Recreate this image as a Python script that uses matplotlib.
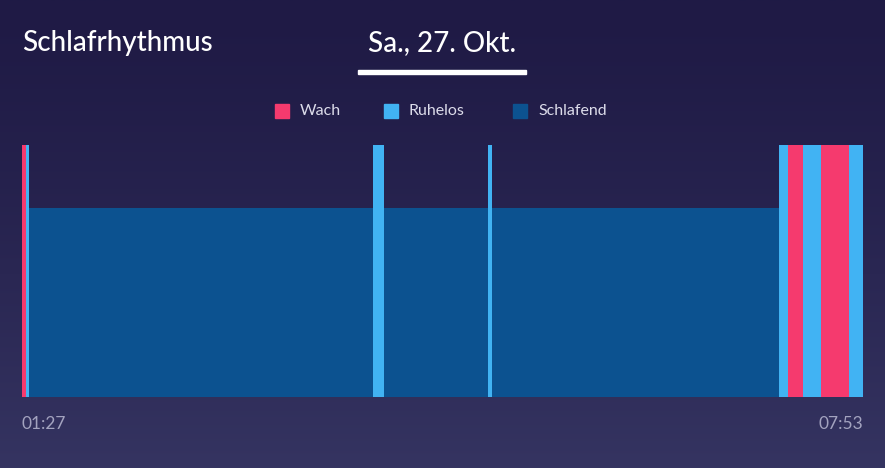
import matplotlib
matplotlib.use("Agg")
import matplotlib.pyplot as plt
import numpy as np
from matplotlib.patches import Rectangle

# ---- data ----
stage_names = ["Wach", "Ruhelos", "Schlafend"]
segment_stages = ["Wach", "Ruhelos", "Schlafend", "Ruhelos", "Schlafend", "Ruhelos",
                  "Schlafend", "Ruhelos", "Wach", "Ruhelos", "Wach", "Ruhelos"]
segment_minutes = [2, 1, 158, 5, 48, 1.5, 132, 4, 7, 8, 13, 6.5]
start_label = "01:27"
end_label = "07:53"
title = "Schlafrhythmus"
date_label = "Sa., 27. Okt."

# ---- style ----
colors = {"Wach": "#f53a6e", "Ruhelos": "#41b3f3", "Schlafend": "#0c5290"}
heights = {"Wach": 1.0, "Ruhelos": 1.0, "Schlafend": 0.75}
FONT = ["Lato", "DejaVu Sans"]

W, H = 885, 468
fig = plt.figure(figsize=(W / 100, H / 100), dpi=100)

# background gradient
bg = fig.add_axes([0, 0, 1, 1])
grad = np.linspace(0, 1, 256).reshape(-1, 1)
top = np.array([0x1f, 0x1a, 0x45]) / 255
bot = np.array([0x35, 0x34, 0x61]) / 255
img = top + (bot - top) * grad[..., None] ** 1.3
bg.imshow(img, aspect="auto", extent=[0, 1, 0, 1], origin="upper")
bg.set_axis_off()

# chart axes
x0, x1 = 22, 863
y_top, y_bot = 145, 397
ax = fig.add_axes([x0 / W, (H - y_bot) / H, (x1 - x0) / W, (y_bot - y_top) / H])
ax.set_facecolor("none")
starts = np.concatenate([[0], np.cumsum(segment_minutes)[:-1]])
total = float(np.sum(segment_minutes))
for s, d, st in zip(starts, segment_minutes, segment_stages):
    ax.bar(s, heights[st], width=d, align="edge", color=colors[st], linewidth=0)
ax.set_xlim(0, total)
ax.set_ylim(0, 1)
for sp in ax.spines.values():
    sp.set_visible(False)
ax.set_yticks([])
ax.set_xticks([0, total])
ax.set_xticklabels([start_label, end_label], fontsize=12.5, color="#a3a3bf", family=FONT)
ax.tick_params(axis="x", length=0, pad=14)
labs = ax.get_xticklabels()
labs[0].set_horizontalalignment("left")
labs[1].set_horizontalalignment("right")

# titles
fig.text(22 / W, 1 - 43 / H, title, fontsize=20, color="white", family=FONT,
         va="center", ha="left", weight="medium")
fig.text(442 / W, 1 - 43 / H, date_label, fontsize=20, color="white", family=FONT,
         va="center", ha="center", weight="medium")
bg.add_patch(Rectangle((358 / W, 1 - 74 / H), (526 - 358) / W, 4 / H,
                       color="white", transform=bg.transAxes))

# legend
leg_x = {"Wach": 275, "Ruhelos": 384, "Schlafend": 513}
for name in stage_names:
    lx = leg_x[name]
    bg.add_patch(Rectangle((lx / W, 1 - 118 / H), 14 / W, 14 / H,
                           color=colors[name], transform=bg.transAxes))
    fig.text((lx + 25) / W, 1 - 111 / H, name, fontsize=11.5, color="#dcdcea",
             family=FONT, va="center", ha="left")

fig.savefig("out.png", dpi=100)
